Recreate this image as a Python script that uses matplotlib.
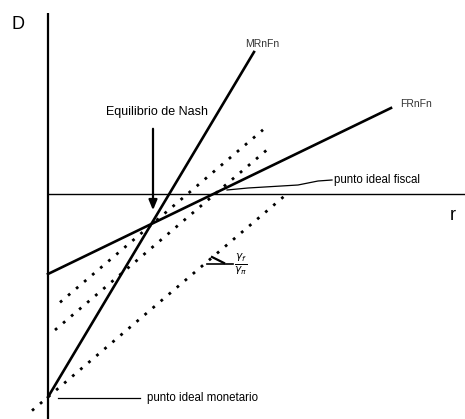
import matplotlib
matplotlib.use("Agg")
import matplotlib.pyplot as plt
import numpy as np

plt.rcParams['font.family'] = ['Liberation Sans', 'DejaVu Sans']

# Diagram geometry (origin at the axes crossing, y up)
mr_x = [0, 206]
mr_y = [-203, 142]
fr_x = [0, 343]
fr_y = [-80, 86]
nash = (103, -31)
fiscal_ideal = (167, 0)
monetary_ideal = (0, -203)
iso_slope = 0.85
iso_through = [nash, fiscal_ideal, monetary_ideal]
iso_xrange = [(12, 215), (7, 220), (-16, 239)]

fig = plt.figure(figsize=(4.65, 4.19), dpi=100)
ax = fig.add_axes([0, 0, 1, 1])
ax.set_xlim(-48, 417)
ax.set_ylim(-225, 194)
ax.axis('off')

# axes
ax.plot([0, 0], [-225, 181], color='black', lw=1.6, solid_capstyle='butt')
ax.plot([0, 417], [0, 0], color='black', lw=1.0)

# reaction functions
ax.plot(mr_x, mr_y, color='black', lw=1.9)
ax.plot(fr_x, fr_y, color='black', lw=1.9)

# dotted iso-lines
for (px, py), (x0, x1) in zip(iso_through, iso_xrange):
    xs = np.array([x0, x1])
    ys = py + iso_slope * (xs - px)
    ax.plot(xs, ys, color='black', lw=2.0, linestyle=(0, (1, 2.8)),
            dash_capstyle='butt')

# labels
ax.text(-30, 169, 'D', fontsize=13, ha='center', va='center')
ax.text(405, -21, 'r', fontsize=13, ha='center', va='center')
ax.text(197, 150, 'MRnFn', fontsize=7.5, ha='left', va='center', color='#333333')
ax.text(352, 90, 'FRnFn', fontsize=7.5, ha='left', va='center', color='#333333')

ax.text(109, 82, 'Equilibrio de Nash', fontsize=9, ha='center', va='center')
ax.annotate('', xy=(105, -19), xytext=(105, 68),
            arrowprops=dict(arrowstyle='-|>,head_length=0.6,head_width=0.25',
                            color='black', lw=1.6))

# punto ideal fiscal leader
ax.plot([179, 200, 250, 270, 284], [4, 6, 9, 13, 14], color='black', lw=0.9)
ax.text(286, 14, 'punto ideal fiscal', fontsize=8.3, ha='left', va='center')

# punto ideal monetario leader
ax.plot([10, 92], [-204, -204], color='black', lw=0.9)
ax.text(99, -204, 'punto ideal monetario', fontsize=8.3, ha='left', va='center')

# slope marker
ax.plot([159, 185], [-70, -70], color='black', lw=1.2)
ax.plot([164, 176], [-63, -69], color='black', lw=1.6)
ax.text(186, -70, r'$\frac{\gamma_f}{\gamma_\pi}$', fontsize=11, ha='left', va='center')

fig.savefig('out.png', dpi=100)
